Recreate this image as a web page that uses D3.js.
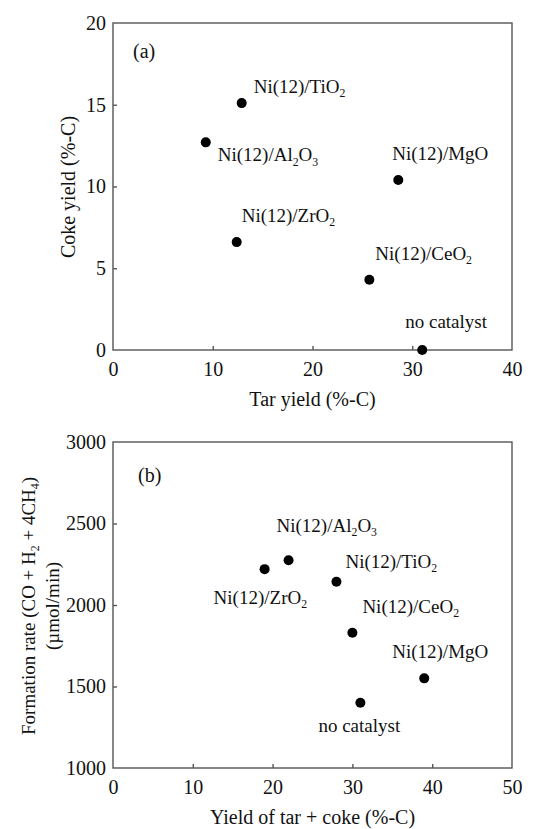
<!DOCTYPE html>
<html>
<head>
<meta charset="utf-8">
<script src="https://cdn.jsdelivr.net/npm/d3@7"></script>
<style>
  html, body { margin: 0; padding: 0; background: #fff; }
  svg { display: block; }
</style>
</head>
<body>
<svg id="chart" width="551" height="829" font-family="Liberation Serif"></svg>
<script>
// Catalyst names; "_x" marks a subscript
const catalysts = ["Ni(12)/TiO_2", "Ni(12)/Al_2O_3", "Ni(12)/MgO", "Ni(12)/ZrO_2", "Ni(12)/CeO_2", "no catalyst"];

// Panel (a): tar yield vs coke yield (%-C)
const tarYield  = [12.9, 9.3, 28.6, 12.4, 25.7, 31.0];
const cokeYield = [15.1, 12.7, 10.4, 6.6, 4.3, 0.0];

// Panel (b): tar + coke yield (%-C) vs formation rate (µmol/min)
const tarCokeYield  = [28.0, 22.0, 39.0, 19.0, 30.0, 31.0];
const formationRate = [2143, 2275, 1550, 2220, 1830, 1400];

// Tick values
const ticksA_x = [0, 10, 20, 30, 40];
const ticksA_y = [0, 5, 10, 15, 20];
const ticksB_x = [0, 10, 20, 30, 40, 50];
const ticksB_y = [1000, 1500, 2000, 2500, 3000];

// Label placement relative to each point (px), same order as catalysts
const labelOffsetA = [[12, -10], [12, 19], [-6, -20], [5, -20], [6, -20], [-17, -22]];
const labelOffsetB = [[9, -14], [-12, -28], [-32, -20], [-51, 35], [10, -20], [-42, 29]];

const svg = d3.select("#chart");
const FONT = "Liberation Serif";
const FS = 19;       // point labels
const FS_AX = 20;    // tick labels and axis titles
const INK = "#111";
const AXIS_COLOR = "#555";

function addText(parent, size) {
  return parent.append("text").attr("font-family", FONT).attr("font-size", size).attr("fill", INK);
}

// Write text with "_x" subscripts as tspans
function richText(sel, str, size) {
  const parts = str.split(/(_[0-9]+)/).filter(s => s.length);
  let shifted = false;
  parts.forEach(p => {
    if (p.startsWith("_")) {
      sel.append("tspan").attr("font-size", size * 0.62).attr("dy", size * 0.22).text(p.slice(1));
      shifted = true;
    } else {
      const t = sel.append("tspan").attr("font-size", size).text(p);
      if (shifted) { t.attr("dy", -size * 0.22); shifted = false; }
    }
  });
}

function panel(opts) {
  const { left, right, top, bottom, xDomain, yDomain, xTicks, yTicks, xs, ys, offsets, tag, tagPos } = opts;
  const x = d3.scaleLinear().domain(xDomain).range([left, right]);
  const y = d3.scaleLinear().domain(yDomain).range([bottom, top]);
  const g = svg.append("g");

  // frame
  g.append("rect")
    .attr("x", left).attr("y", top)
    .attr("width", right - left).attr("height", bottom - top)
    .attr("fill", "none").attr("stroke", AXIS_COLOR).attr("stroke-width", 1.4);

  // bottom axis, ticks pointing inward
  const xa = g.append("g").attr("transform", `translate(0,${bottom})`)
    .call(d3.axisBottom(x).tickValues(xTicks).tickSize(-4).tickPadding(12).tickFormat(d3.format("d")));
  // left axis, ticks pointing inward
  const ya = g.append("g").attr("transform", `translate(${left},0)`)
    .call(d3.axisLeft(y).tickValues(yTicks).tickSize(-4).tickPadding(7).tickFormat(d3.format("d")));
  [xa, ya].forEach(a => {
    a.attr("font-family", FONT).attr("font-size", FS_AX);
    a.select(".domain").remove();
    a.selectAll(".tick line").attr("stroke", AXIS_COLOR).attr("stroke-width", 1.4);
    a.selectAll(".tick text").attr("font-size", FS_AX).attr("font-family", FONT).attr("fill", INK);
  });
  // no inward ticks on the frame corners
  xa.selectAll(".tick line").filter(d => d === xDomain[0] || d === xDomain[1]).remove();
  ya.selectAll(".tick line").filter(d => d === yDomain[0] || d === yDomain[1]).remove();

  // points
  g.selectAll("circle").data(xs).join("circle")
    .attr("cx", (d, i) => x(xs[i]))
    .attr("cy", (d, i) => y(ys[i]))
    .attr("r", 5)
    .attr("fill", "#000");

  // point labels
  catalysts.forEach((name, i) => {
    const t = addText(g, FS)
      .attr("x", x(xs[i]) + offsets[i][0])
      .attr("y", y(ys[i]) + offsets[i][1]);
    richText(t, name, FS);
  });

  // panel tag
  addText(g, FS_AX).attr("x", left + tagPos[0]).attr("y", top + tagPos[1]).text(tag);
  return { x, y };
}

panel({
  left: 113, right: 512, top: 23, bottom: 350,
  xDomain: [0, 40], yDomain: [0, 20],
  xTicks: ticksA_x, yTicks: ticksA_y,
  xs: tarYield, ys: cokeYield, offsets: labelOffsetA,
  tag: "(a)", tagPos: [20, 35]
});

panel({
  left: 113, right: 512, top: 442, bottom: 768,
  xDomain: [0, 50], yDomain: [1000, 3000],
  xTicks: ticksB_x, yTicks: ticksB_y,
  xs: tarCokeYield, ys: formationRate, offsets: labelOffsetB,
  tag: "(b)", tagPos: [25, 40]
});

// axis titles
addText(svg, FS_AX).attr("x", 312.5).attr("y", 406).attr("text-anchor", "middle").text("Tar yield (%-C)");
addText(svg, FS_AX).attr("transform", "translate(75,187) rotate(-90)").attr("text-anchor", "middle").text("Coke yield (%-C)");

addText(svg, FS_AX).attr("x", 312.5).attr("y", 824).attr("text-anchor", "middle").text("Yield of tar + coke (%-C)");
const yb1 = addText(svg, FS).attr("transform", "translate(35,606) rotate(-90)").attr("text-anchor", "middle");
richText(yb1, "Formation rate (CO + H_2 + 4CH_4)", FS);
addText(svg, FS).attr("transform", "translate(59,606) rotate(-90)").attr("text-anchor", "middle").text("(\u00b5mol/min)");
</script>
</body>
</html>
